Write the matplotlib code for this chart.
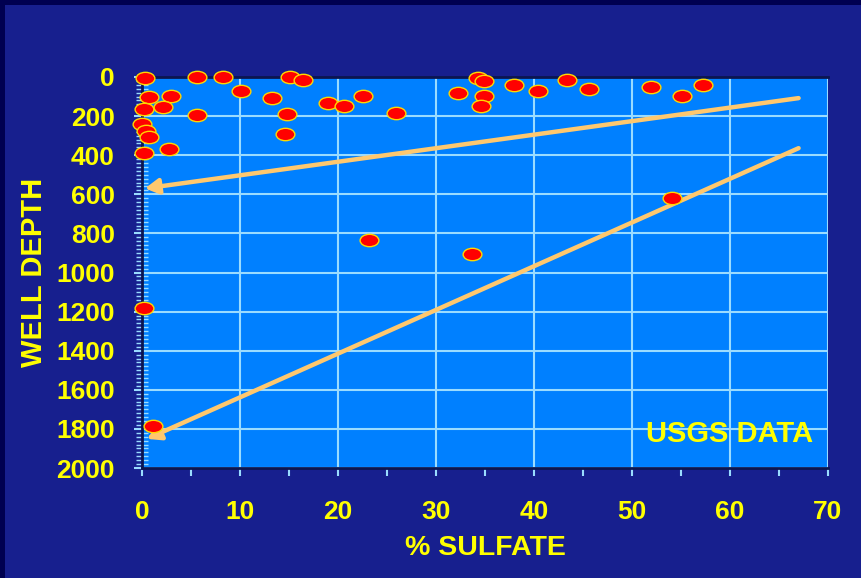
import numpy as np
import matplotlib
matplotlib.use("Agg")
import matplotlib.pyplot as plt
from matplotlib.path import Path
from matplotlib.transforms import Affine2D
from matplotlib.patches import Rectangle

plt.rcParams['font.family'] = ['Liberation Sans', 'DejaVu Sans']
plt.rcParams['font.weight'] = 'bold'

# well data: % sulfate vs well depth
sulfate = [0.3, 5.6, 8.3, 15.1, 16.4, 0.7, 3.0, 0.2, 2.1, 10.1, 13.3, 5.6, 14.8,
           0.0, 0.4, 0.7, 14.6, 0.2, 2.8, 19.0, 20.6, 22.6, 25.9, 32.2, 34.3,
           34.9, 34.9, 34.6, 38.0, 40.4, 43.4, 45.6, 51.9, 55.1, 57.2,
           23.2, 33.7, 54.1, 0.2, 1.1]
depth = [5, 0, 0, 0, 15, 103, 97, 164, 154, 72, 108, 195, 190,
         241, 277, 308, 292, 390, 369, 133, 149, 97, 185, 82, 5,
         21, 97, 149, 41, 72, 15, 62, 51, 97, 41,
         836, 903, 620, 1180, 1785]

# arrows: (tail x, tail depth) -> (head x, head depth)
arrow_tails = [(67, 108), (67, 364)]
arrow_heads = [(0.3, 570), (0.5, 1851)]

xticks_major = [0, 10, 20, 30, 40, 50, 60, 70]
yticks_major = [0, 200, 400, 600, 800, 1000, 1200, 1400, 1600, 1800, 2000]

NAVY = '#171F8E'
PLOT_BG = '#0080FF'
YELLOW = '#FFFF00'
GRID = '#9ADCFF'
ARROW = '#FFC86E'

fig = plt.figure(figsize=(8.62, 5.78), dpi=100, facecolor=NAVY)
# darker border strips
fig.patches.append(Rectangle((0, 1 - 5 / 578), 1, 5 / 578, transform=fig.transFigure,
                             facecolor='#000050', edgecolor='none', zorder=-1))
fig.patches.append(Rectangle((0, 0), 5 / 862, 1, transform=fig.transFigure,
                             facecolor='#000050', edgecolor='none', zorder=-1))

ax = fig.add_axes([142 / 862, 1 - 468 / 578, (828 - 142) / 862, (468 - 77) / 578])
ax.set_facecolor(PLOT_BG)
ax.set_xlim(0, 70)
ax.set_ylim(2000, 0)

ax.set_xticks(xticks_major)
ax.set_xticks(np.arange(0, 71, 5), minor=True)
ax.set_yticks(yticks_major)
ax.set_yticks(np.arange(0, 2001, 20), minor=True)

ax.grid(True, which='major', color=GRID, lw=1.5)
ax.set_axisbelow(True)

ax.tick_params(axis='y', which='major', direction='inout', length=11, width=1.5,
               color=GRID, labelcolor=YELLOW, labelsize=19, pad=14)
ax.tick_params(axis='y', which='minor', direction='inout', length=8, width=1.0, color=GRID)
ax.tick_params(axis='x', which='major', direction='out', length=6, width=1.5,
               color=GRID, labelcolor=YELLOW, labelsize=19, pad=17)
ax.tick_params(axis='x', which='minor', direction='out', length=6, width=1.5, color=GRID)

for lab in ax.get_xticklabels() + ax.get_yticklabels():
    lab.set_fontweight('bold')

for side in ['top', 'left', 'bottom']:
    ax.spines[side].set_color('#0B1650')
    ax.spines[side].set_linewidth(2)
ax.spines['right'].set_visible(False)

ax.set_xlabel('% SULFATE', color=YELLOW, fontsize=20.5, fontweight='bold', labelpad=8)
ax.set_ylabel('WELL DEPTH', color=YELLOW, fontsize=21, fontweight='bold', labelpad=6)

for (tx, td), (hx, hd) in zip(arrow_tails, arrow_heads):
    ax.annotate('', xy=(hx, hd), xytext=(tx, td),
                arrowprops=dict(arrowstyle='-|>,head_length=0.8,head_width=0.45',
                                color=ARROW, lw=3.2, shrinkA=0, shrinkB=0),
                annotation_clip=False, zorder=3)

ellipse = Path.unit_circle().transformed(Affine2D().scale(1.0, 0.66))
ax.scatter(sulfate, depth, marker=ellipse, s=13.5 ** 2, facecolor='#FF0000',
           edgecolor='#FFD800', linewidths=1.0, zorder=5, clip_on=False)

ax.text(0.978, 0.088, 'USGS DATA', transform=ax.transAxes, color=YELLOW, fontsize=21,
        fontweight='bold', ha='right', va='center')

fig.savefig('out.png', dpi=100, facecolor=fig.get_facecolor())
